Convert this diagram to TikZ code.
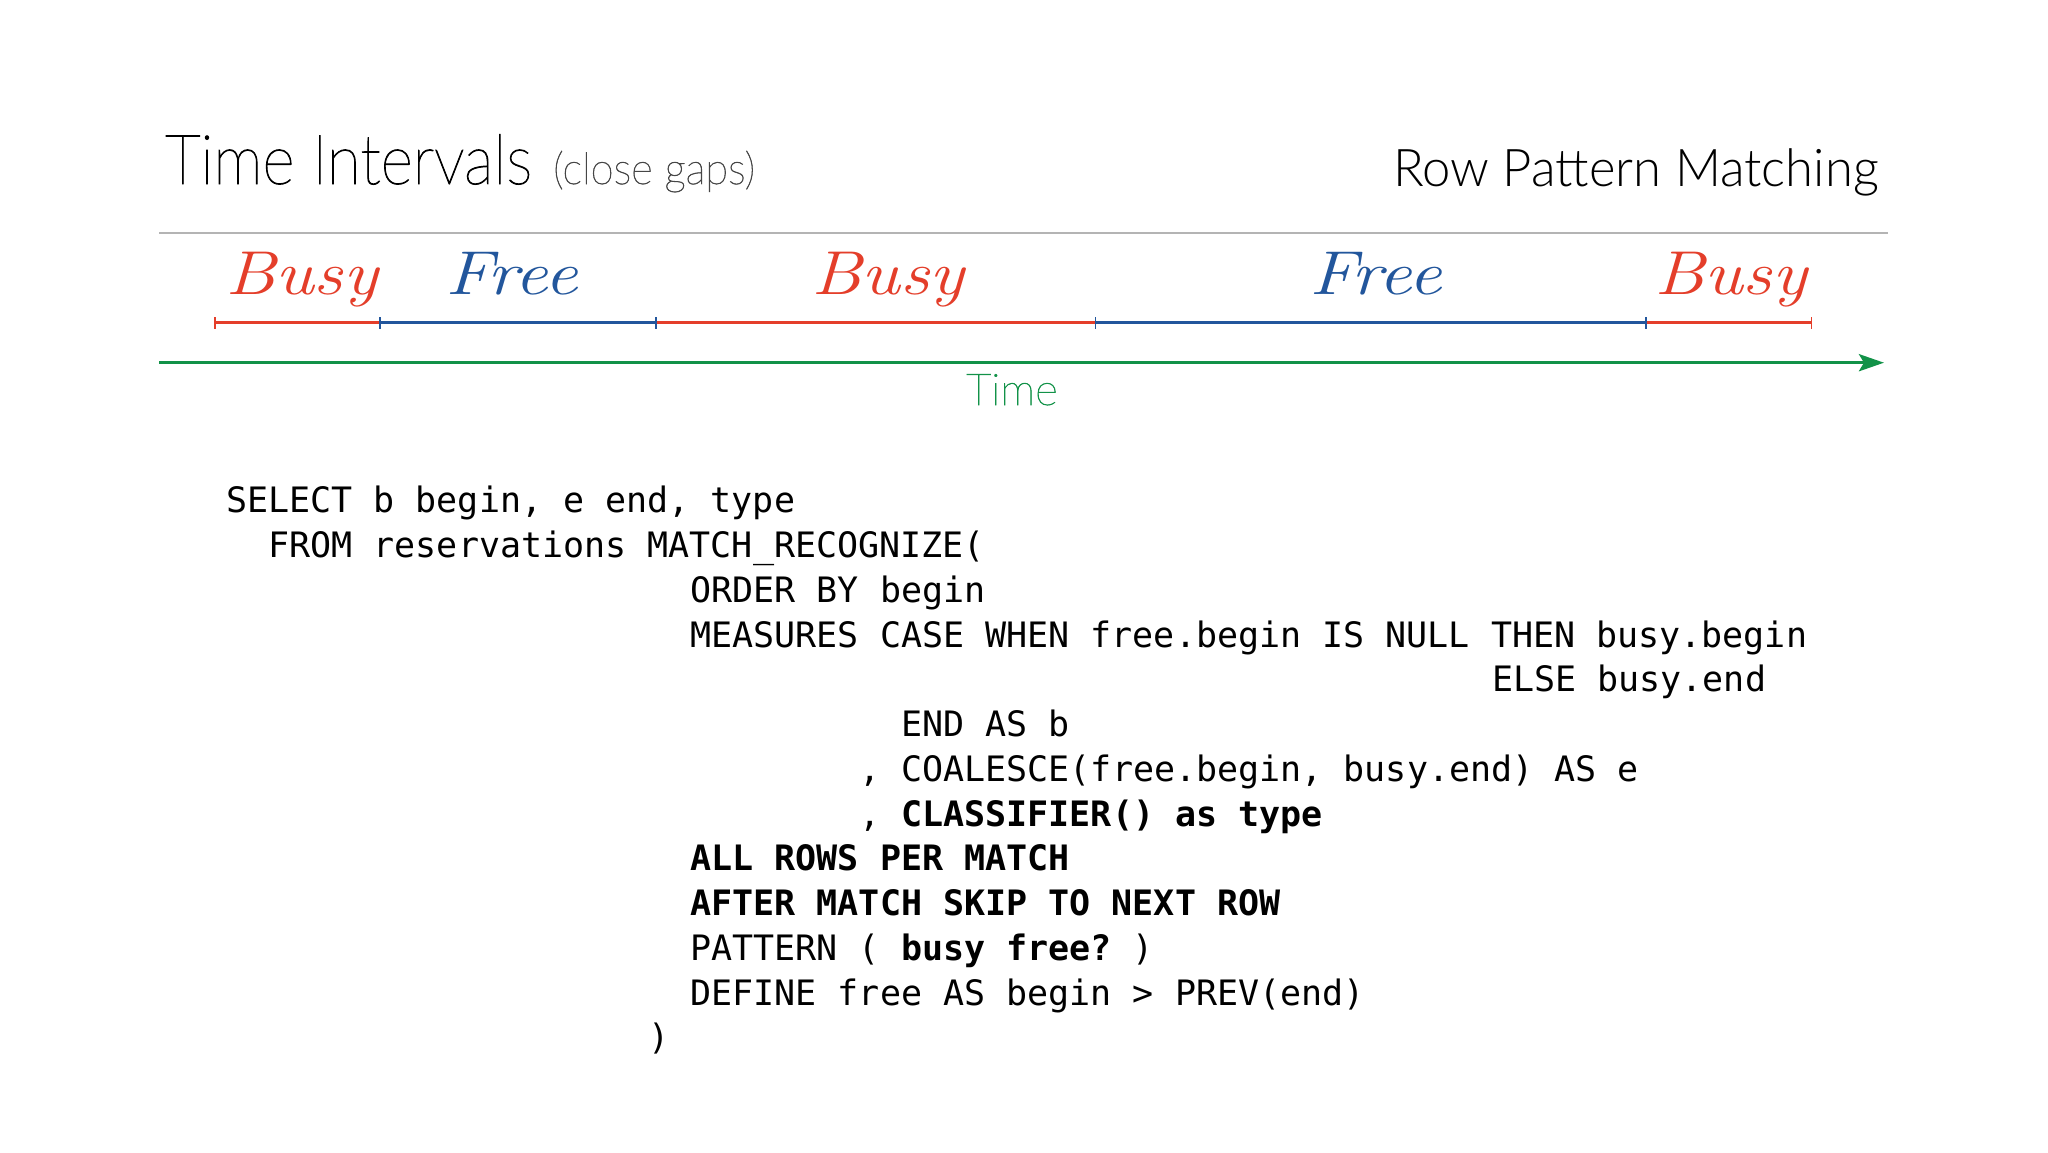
\documentclass[tikz,border=0pt]{standalone}
\usepackage{fontspec}
\usepackage{graphicx}
\usetikzlibrary{arrows.meta}
\newfontfamily\thinfont{Lato Hairline}[FakeBold=1.4]
\newfontfamily\lightfont{Lato Light}
\newfontfamily\codefont{DejaVu Sans Mono}
\definecolor{busyred}{RGB}{228,62,42}
\definecolor{freeblue}{RGB}{34,86,156}
\definecolor{timegreen}{RGB}{18,146,72}
\definecolor{rulegray}{RGB}{180,180,180}
\definecolor{subgray}{RGB}{70,70,70}
\begin{document}
\frenchspacing
\begin{tikzpicture}[x=1pt,y=-1pt,
  code/.style={anchor=base west, inner sep=0pt, font=\codefont\fontsize{35}{45}\selectfont\frenchspacing},
  hand/.style={anchor=base, inner sep=0pt, font=\itshape\fontsize{62}{62}\selectfont},
  busylbl/.style={hand, text=busyred},
  freelbl/.style={hand, text=freeblue},
  busyseg/.style={draw=busyred, line width=3pt},
  freeseg/.style={draw=freeblue, line width=3pt},
  tickmark/.style={line width=1.6pt}
]
\fill[white] (0,0) rectangle (2048,1152);
\useasboundingbox (0,0) rectangle (2048,1152);

% titles
\node[anchor=base west, inner sep=0pt, font=\thinfont\fontsize{69}{69}\selectfont] (title) at (165,184) {\scalebox{0.9}[1]{Time Intervals}};
\node[anchor=base west, inner sep=0pt, text=subgray, font=\thinfont\fontsize{44}{44}\selectfont] (subtitle) at (553,184) {\scalebox{0.95}[1]{(close gaps)}};
\node[anchor=base east, inner sep=0pt, font=\lightfont\fontsize{52}{52}\selectfont] (rpm) at (1879,186) {\scalebox{0.976}[1]{Row Pattern Matching}};

% rule
\coordinate (r0) at (159,232.5);
\coordinate (r1) at (1888,232.5);
\draw[rulegray, line width=2pt] (r0) -- (r1);

% interval points
\coordinate (t0) at (215,322.7);
\coordinate (t1) at (380,322.7);
\coordinate (t2) at (655.7,322.7);
\coordinate (t3) at (1095.5,322.7);
\coordinate (t4) at (1646,322.7);
\coordinate (t5) at (1811.5,322.7);
\draw[busyseg] (t0) -- (t1);
\draw[freeseg] (t1) -- (t2);
\draw[busyseg] (t2) -- (t3);
\draw[freeseg] (t3) -- (t4);
\draw[busyseg] (t4) -- (t5);
\draw[tickmark, busyred] ([yshift=-6pt]t0) -- ([yshift=6pt]t0);
\draw[tickmark, freeblue] ([yshift=-6pt]t1) -- ([yshift=6pt]t1);
\draw[tickmark, freeblue] ([yshift=-6pt]t2) -- ([yshift=6pt]t2);
\draw[tickmark, freeblue] ([yshift=-6pt]t3) -- ([yshift=6pt]t3);
\draw[tickmark, freeblue] ([yshift=-6pt]t4) -- ([yshift=6pt]t4);
\draw[tickmark, busyred] ([yshift=-6pt]t5) -- ([yshift=6pt]t5);

% labels
\node[busylbl] (busy1) at (301.5,294) {\scalebox{1.18}[1]{Busy}};
\node[freelbl] (free1) at (511.5,294) {\scalebox{1.2}[1]{Free}};
\node[busylbl] (busy2) at (888,294) {\scalebox{1.18}[1]{Busy}};
\node[freelbl] (free2) at (1376,294) {\scalebox{1.2}[1]{Free}};
\node[busylbl] (busy3) at (1730.5,294) {\scalebox{1.18}[1]{Busy}};

% time axis
\coordinate (a0) at (159,362.7);
\coordinate (a1) at (1884,362.7);
\draw[timegreen, line width=3.5pt, -{Stealth[length=25pt,width=17pt,inset=5pt]}] (a0) -- (a1);
\node[anchor=base, inner sep=0pt, text=timegreen, font=\thinfont\fontsize{44}{44}\selectfont] (timelbl) at (1012,405) {Time};

% code
\node[code] (c0) at (226,512.7) {SELECT b begin, e end, type};
\node[code] (c1) at (268.2,557.5) {FROM reservations MATCH\_RECOGNIZE(};
\node[code] (c2) at (690.2,602.2) {ORDER BY begin};
\node[code] (c3) at (690.2,647.0) {MEASURES CASE WHEN free.begin IS NULL THEN busy.begin};
\node[code] (c4) at (1492,691.7) {ELSE busy.end};
\node[code] (c5) at (901.2,736.5) {END AS b};
\node[code] (c6) at (859,781.2) {, COALESCE(free.begin, busy.end) AS e};
\node[code] (c7) at (859,826.0) {, \textbf{CLASSIFIER() as type}};
\node[code] (c8) at (690.2,870.7) {\textbf{ALL ROWS PER MATCH}};
\node[code] (c9) at (690.2,915.5) {\textbf{AFTER MATCH SKIP TO NEXT ROW}};
\node[code] (c10) at (690.2,960.2) {PATTERN ( \textbf{busy free?}\ )};
\node[code] (c11) at (690.2,1005.0) {DEFINE free AS begin > PREV(end)};
\node[code] (c12) at (648,1049.7) {)};
\end{tikzpicture}
\end{document}
